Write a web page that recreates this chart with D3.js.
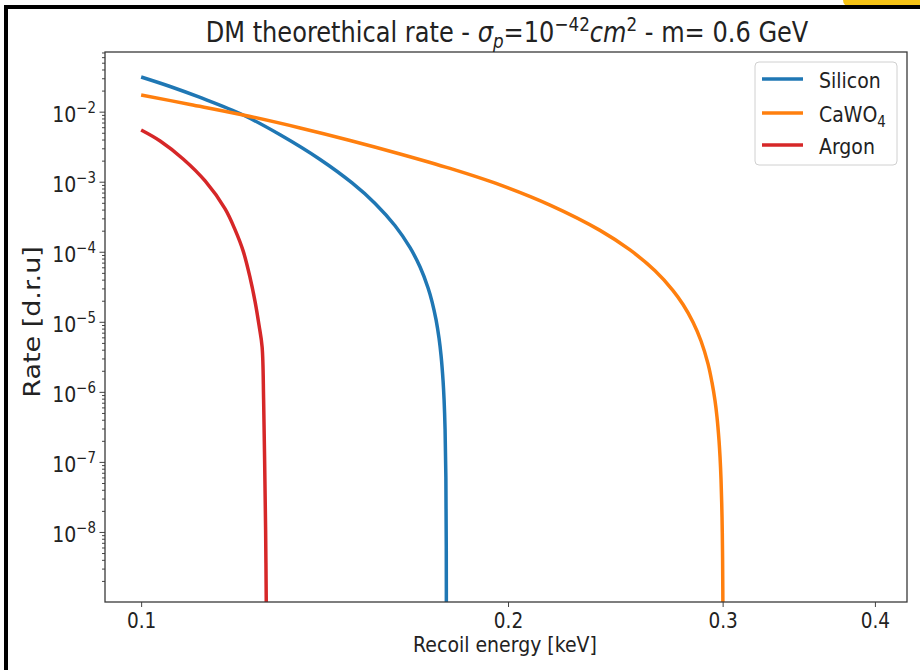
<!DOCTYPE html>
<html><head><meta charset="utf-8">
<script src="https://cdn.jsdelivr.net/npm/d3@7"></script>
<style>body{margin:0;background:#fff;} svg{display:block;} text{font-family:"DejaVu Sans",sans-serif;fill:#222;}</style>
</head><body><svg id="c" width="920" height="670"></svg>
<script>
// ---- data ----
const seriesNames = ["Silicon", "CaWO4", "Argon"];
const seriesColors = ["#1f77b4", "#ff7f0e", "#d62728"];

const siliconEnergy = [0.1, 0.105631, 0.111789, 0.121249, 0.130026, 0.140230, 0.148965, 0.155581, 0.161570, 0.166213, 0.169382, 0.171961, 0.173265, 0.174580, 0.175572, 0.176236, 0.176903, 0.177238, 0.177573, 0.177842, 0.177976, 0.178010];
const siliconRate   = [3.126e-2, 2.288e-2, 1.594e-2, 8.971e-3, 4.683e-3, 2.080e-3, 9.614e-4, 4.903e-4, 2.349e-4, 1.144e-4, 6.048e-5, 3.045e-5, 1.929e-5, 1.064e-5, 5.758e-6, 3.273e-6, 1.439e-6, 7.738e-7, 2.927e-7, 6.010e-8, 5.41e-9, 2.9e-10];

const cawo4Energy = [0.1, 0.109698, 0.121249, 0.135031, 0.148403, 0.163104, 0.179258, 0.197015, 0.216531, 0.237977, 0.251850, 0.264030, 0.273163, 0.278372, 0.283679, 0.287999, 0.291832, 0.294046, 0.295717, 0.296836, 0.297959, 0.298523, 0.299087, 0.299653, 0.299936, 0.300106, 0.300220];
const cawo4Rate   = [1.730e-2, 1.267e-2, 8.971e-3, 5.853e-3, 3.883e-3, 2.492e-3, 1.548e-3, 9.00e-4, 4.636e-4, 2.020e-4, 1.061e-4, 5.358e-5, 2.796e-5, 1.765e-5, 9.87e-6, 5.324e-6, 2.508e-6, 1.352e-6, 7.464e-7, 4.327e-7, 2.013e-7, 1.178e-7, 5.591e-8, 1.626e-8, 5.117e-9, 1.366e-9, 1.692e-10];

const argonEnergy = [0.1, 0.103654, 0.108257, 0.112850, 0.117194, 0.119429, 0.121249, 0.122862, 0.124027, 0.124968, 0.125678, 0.126035, 0.126273, 0.126512, 0.126679];
const argonRate   = [5.482e-3, 3.819e-3, 2.114e-3, 1.026e-3, 4.093e-4, 2.053e-4, 1.030e-4, 4.242e-5, 1.929e-5, 8.768e-6, 4.398e-6, 7.713e-7, 1.075e-7, 1.078e-8, 7.79e-10];

const xTickValues = [0.1, 0.2, 0.3, 0.4];
const xTickLabels = ["0.1", "0.2", "0.3", "0.4"];
const yTickExponents = [-2, -3, -4, -5, -6, -7, -8];
const xDomain = [0.0934, 0.425];
const yDomain = [1e-9, 0.0711];

// ---- layout ----
const SX = 0.86; // horizontal squash of text in the reference
const L = 105, R = 907, T = 52, B = 602;
const svg = d3.select("#c");

// frame decorations
svg.append("rect").attr("x", 843).attr("y", -10).attr("width", 90).attr("height", 17).attr("rx", 7).attr("fill", "#f6c417");
svg.append("rect").attr("x", 4).attr("y", 5).attr("width", 916).attr("height", 4).attr("fill", "#000");
svg.append("rect").attr("x", 4).attr("y", 5).attr("width", 4).attr("height", 670).attr("fill", "#000");

const x = d3.scaleLog().domain(xDomain).range([L, R]);
const y = d3.scaleLog().domain(yDomain).range([B, T]);

svg.append("defs").append("clipPath").attr("id", "clip")
  .append("rect").attr("x", L).attr("y", T).attr("width", R - L).attr("height", B - T);

// y axis major + minor ticks
const yMajor = yTickExponents.map(e => Math.pow(10, e));
const yMinor = [];
for (let e = -9; e <= -2; e++) for (let k = 2; k <= 9; k++) {
  const v = k * Math.pow(10, e);
  if (v >= yDomain[0] && v <= yDomain[1]) yMinor.push(v);
}
const yAxMinor = svg.append("g").attr("transform", `translate(${L},0)`)
  .call(d3.axisLeft(y).tickValues(yMinor).tickSize(3).tickFormat(""));
const yAxMajor = svg.append("g").attr("transform", `translate(${L},0)`)
  .call(d3.axisLeft(y).tickValues(yMajor).tickSize(5.5).tickFormat(""));
[yAxMinor, yAxMajor].forEach(g => { g.select(".domain").remove(); g.selectAll("line").attr("stroke", "#444").attr("stroke-width", 1); });

yAxMajor.selectAll(".tick").each(function(d, i) {
  const t = d3.select(this).append("text")
    .attr("transform", `translate(-9,10) scale(${SX},1)`)
    .attr("text-anchor", "end").attr("font-size", 22).attr("fill", "#222");
  t.append("tspan").text("10");
  t.append("tspan").attr("font-size", 15.5).attr("dy", -9).text("\u2212" + Math.abs(yTickExponents[i]));
});

// x axis ticks
const xAx = svg.append("g").attr("transform", `translate(0,${B})`)
  .call(d3.axisBottom(x).tickValues(xTickValues).tickSize(5).tickFormat(""));
xAx.select(".domain").remove();
xAx.selectAll("line").attr("stroke", "#444").attr("stroke-width", 1);
xAx.selectAll(".tick").append("text")
  .attr("transform", `translate(0,26) scale(${SX},1)`)
  .attr("text-anchor", "middle").attr("font-size", 21.5).attr("fill", "#222")
  .text((d, i) => xTickLabels[i]);

// lines
const seriesData = [
  siliconEnergy.map((e, i) => [e, siliconRate[i]]),
  cawo4Energy.map((e, i) => [e, cawo4Rate[i]]),
  argonEnergy.map((e, i) => [e, argonRate[i]])
];
const line = d3.line().x(d => x(d[0])).y(d => y(d[1])).curve(d3.curveCatmullRom.alpha(0.5));
const plot = svg.append("g").attr("clip-path", "url(#clip)");
seriesData.forEach((s, i) => {
  plot.append("path").attr("d", line(s)).attr("fill", "none")
    .attr("stroke", seriesColors[i]).attr("stroke-width", 3.5).attr("stroke-linejoin", "round");
});

// spines
svg.append("rect").attr("x", L).attr("y", T).attr("width", R - L).attr("height", B - T)
  .attr("fill", "none").attr("stroke", "#3a3a3a").attr("stroke-width", 1.3);

// title
const title = svg.append("text").attr("transform", `translate(507,42) scale(${SX},1)`)
  .attr("text-anchor", "middle").attr("font-size", 28).attr("fill", "#222");
title.append("tspan").text("DM theorethical rate - ");
title.append("tspan").attr("font-style", "italic").text("\u03C3");
title.append("tspan").attr("font-style", "italic").attr("font-size", 19.5).attr("dy", 6).text("p");
title.append("tspan").attr("dy", -6).text("=10");
title.append("tspan").attr("font-size", 19.5).attr("dy", -11).text("\u221242");
title.append("tspan").attr("font-style", "italic").attr("dy", 11).text("cm");
title.append("tspan").attr("font-size", 19.5).attr("dy", -11).text("2");
title.append("tspan").attr("dy", 11).text(" - m= 0.6 GeV");

// axis labels
svg.append("text").attr("transform", `translate(505,652) scale(${SX},1)`)
  .attr("text-anchor", "middle").attr("font-size", 22).text("Recoil energy [keV]");
svg.append("text").attr("transform", `translate(40,322) scale(${SX},1) rotate(-90)`)
  .attr("text-anchor", "middle").attr("font-size", 27).text("Rate [d.r.u]");

// legend
const lg = svg.append("g");
lg.append("rect").attr("x", 755).attr("y", 62).attr("width", 142).attr("height", 103).attr("rx", 4)
  .attr("fill", "#fff").attr("fill-opacity", 0.8).attr("stroke", "#d0d0d0").attr("stroke-width", 1);
const legendY = [79, 113, 145];
seriesNames.forEach((n, i) => {
  lg.append("line").attr("x1", 762).attr("x2", 803).attr("y1", legendY[i]).attr("y2", legendY[i])
    .attr("stroke", seriesColors[i]).attr("stroke-width", 3.5);
  const t = lg.append("text").attr("transform", `translate(819,${legendY[i] + 9}) scale(${SX},1)`)
    .attr("font-size", 22);
  if (n === "CaWO4") {
    t.append("tspan").text("CaWO");
    t.append("tspan").attr("font-size", 15.5).attr("dy", 5).text("4");
  } else t.text(n);
});
</script></body></html>
